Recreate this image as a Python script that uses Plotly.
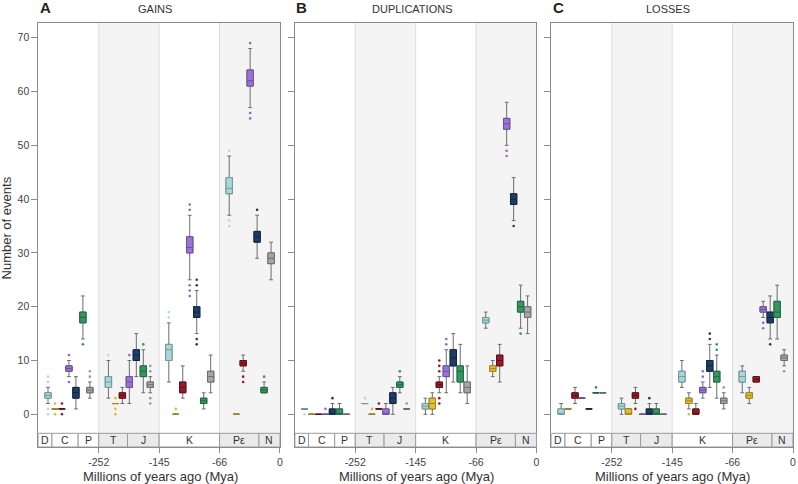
import plotly.graph_objects as go

W, H = 798, 484

# ---------------- data ----------------
SERIES = ["teal", "yellow", "red", "purple", "navy", "green", "gray"]
FILL_COLORS = ["#a9d6d6", "#e6bd2c", "#971b2b", "#9b74d3", "#1f3d66", "#33975f", "#a6a6a6"]
EDGE_COLORS = ["#6f9e9e", "#a8861a", "#5e0f19", "#6d4ea3", "#10243f", "#1f6a40", "#6e6e6e"]
OUTLIER_COLORS = ["#b5d9d9", "#e3b92a", "#8f1a28", "#8e6ac8", "#1f3d66", "#33975f", "#9a9a9a"]

PANEL_TITLES = ["GAINS", "DUPLICATIONS", "LOSSES"]
PANEL_LETTERS = ["A", "B", "C"]

BAND_EDGES_MYA = [-390, -252, -145, -66, 0]
X_TICK_MYA = [-252, -145, -66, 0]
X_TICK_TEXT = ["-252", "-145", "-66", "0"]
Y_TICKS = [0, 10, 20, 30, 40, 50, 60, 70]

PERIOD_NAMES = ["D", "C", "P", "T", "J", "K", "Pε", "N"]
PERIOD_START_MYA = [-390, -359, -299, -252, -201, -145, -66, -23]
PERIOD_END_MYA = [-359, -299, -252, -201, -145, -66, -23, 0]
PERIOD_SHADED = [False, False, False, True, True, False, True, True]

# rows = series (teal..gray), columns = time bands
GAINS_LOWER = [[2, 3, 6, 37], [1, 2, 0, 0], [1, 2, 3, 8], [7, 2, 25, 57], [1, 7, 15, 29], [14, 4, 1, 4], [3, 4, 4, 25]]
GAINS_Q1 = [[3, 5, 10, 41], [1, 2, 0, 0], [1, 3, 4, 9], [8, 5, 30, 61], [3, 10, 18, 32], [17, 7, 2, 4], [4, 5, 6, 28]]
GAINS_MEDIAN = [[3.5, 6, 12, 42], [1, 2, 0, 0], [1, 3.5, 5, 9.5], [8.5, 6, 31, 62], [4, 11, 19, 33], [18, 8, 2.5, 4.5], [4.5, 5.5, 7, 29]]
GAINS_Q3 = [[4, 7, 13, 44], [1, 2, 0, 0], [1, 4, 6, 10], [9, 7, 33, 64], [5, 12, 20, 34], [19, 9, 3, 5], [5, 6, 8, 30]]
GAINS_UPPER = [[5, 10, 17, 48], [1, 2, 0, 0], [1, 5, 9, 11], [10, 10, 37, 68], [7, 15, 23, 37], [22, 12, 4, 6], [6, 7, 11, 32]]
GAINS_OUTLIERS = [
    [[6, 7, 1, 0], [11], [18, 19], [49, 36, 35]],
    [[2, 0], [3, 1, 0], [1], []],
    [[2, 0], [], [], [7, 6]],
    [[11, 6], [11], [38, 39, 24, 23, 22], [69, 56, 55]],
    [[], [], [24, 25, 14, 13], [38]],
    [[13], [13], [], [7]],
    [[7, 8], [8, 9, 3, 2], [], []],
]

DUP_LOWER = [[1, 2, 0, 16], [0, 0, 0, 7], [0, 1, 4, 6], [0, 0, 4, 50], [0, 0, 6, 36], [0, 4, 4, 16], [0, 1, 2, 15]]
DUP_Q1 = [[1, 2, 1, 17], [0, 0, 1, 8], [0, 1, 5, 9], [0, 0, 7, 53], [0, 2, 9, 39], [0, 5, 6, 19], [0, 1, 4, 18]]
DUP_MEDIAN = [[1, 2, 1.5, 17.5], [0, 0, 2, 8.5], [0, 1, 5.5, 10], [0, 0, 8, 54], [0, 3, 10.5, 40], [0, 5.5, 8, 20], [0, 1, 5, 19]]
DUP_Q3 = [[1, 2, 2, 18], [0, 0, 3, 9], [0, 1, 6, 11], [0, 1, 9, 55], [1, 4, 12, 41], [1, 6, 9, 21], [0, 1, 6, 20]]
DUP_UPPER = [[1, 2, 3, 19], [0, 0, 4, 10], [0, 1, 7, 13], [0, 2, 12, 58], [2, 5, 15, 44], [2, 7, 13, 24], [0, 1, 9, 22]]
DUP_OUTLIERS = [
    [[0], [3], [], []],
    [[], [1], [], []],
    [[], [2], [8, 9, 10, 3, 2], []],
    [[1], [], [13, 14], [49, 48]],
    [[3], [], [], [35]],
    [[], [8], [], [15]],
    [[], [2], [], []],
]

LOSS_LOWER = [[0, 0, 5, 4], [1, 0, 1, 2], [2, 2, 0, 6], [3, 0, 3, 18], [1, 0, 5, 14], [4, 0, 3, 14], [4, 0, 1, 9]]
LOSS_Q1 = [[0, 1, 6, 6], [1, 0, 2, 3], [3, 3, 0, 6], [3, 0, 4, 19], [1, 0, 8, 17], [4, 0, 6, 18], [4, 0, 2, 10]]
LOSS_MEDIAN = [[0, 1.5, 7, 7], [1, 0, 2.5, 3.5], [3.5, 3.5, 0, 6.5], [3, 0, 4.5, 19.5], [1, 0, 9, 18], [4, 0, 7, 19], [4, 0, 2.5, 10.5]]
LOSS_Q3 = [[1, 2, 8, 8], [1, 1, 3, 4], [4, 4, 1, 7], [3, 0, 5, 20], [1, 1, 10, 19], [4, 1, 8, 21], [4, 0, 3, 11]]
LOSS_UPPER = [[2, 3, 10, 9], [1, 1, 4, 5], [5, 5, 2, 7], [3, 0, 6, 21], [1, 2, 13, 22], [4, 2, 11, 24], [4, 0, 4, 12]]
LOSS_OUTLIERS = [
    [[], [], [], []],
    [[], [], [0], []],
    [[], [1], [], []],
    [[], [], [7, 8], [17, 16]],
    [[], [3], [14, 15], [13]],
    [[5], [], [12, 13], []],
    [[], [], [5], [8]],
]

PANELS = [
    (GAINS_LOWER, GAINS_Q1, GAINS_MEDIAN, GAINS_Q3, GAINS_UPPER, GAINS_OUTLIERS),
    (DUP_LOWER, DUP_Q1, DUP_MEDIAN, DUP_Q3, DUP_UPPER, DUP_OUTLIERS),
    (LOSS_LOWER, LOSS_Q1, LOSS_MEDIAN, LOSS_Q3, LOSS_UPPER, LOSS_OUTLIERS),
]

# ---------------- layout geometry ----------------
PANEL_X_PX = [(38.5, 281.0), (296.0, 538.5), (553.5, 796.0)]
PLOT_TOP_PX, PLOT_BOTTOM_PX = 23.0, 447.0
STRIP_TOP_PX = 433.3
ZERO_PX, PX_PER_UNIT = 414.3, 5.38
Y_MIN = -(PLOT_BOTTOM_PX - ZERO_PX) / PX_PER_UNIT
Y_MAX = (ZERO_PX - PLOT_TOP_PX) / PX_PER_UNIT
STRIP_TOP = -(STRIP_TOP_PX - ZERO_PX) / PX_PER_UNIT
SLOT0, SLOT_STEP, BOX_W = 0.16, 0.1155, 0.105
FONT = "Liberation Sans, Arial, sans-serif"


def mya_to_x(t):
    e = BAND_EDGES_MYA
    for i in range(len(e) - 1):
        if t <= e[i + 1]:
            return i + (t - e[i]) / (e[i + 1] - e[i])
    return len(e) - 1


def px(x):
    return x / W


def py(y):
    return 1 - y / H


fig = go.Figure()
shapes, annotations = [], []
NB = len(BAND_EDGES_MYA) - 1

for p, (lo, q1, med, q3, hi, outl) in enumerate(PANELS):
    sfx = "" if p == 0 else str(p + 1)
    xa, ya = "x" + sfx, "y" + sfx
    for s in range(len(SERIES)):
        xs = [b + SLOT0 + SLOT_STEP * s for b in range(NB)]
        fig.add_trace(go.Box(
            x=xs, q1=q1[s], median=med[s], q3=q3[s], lowerfence=lo[s], upperfence=hi[s],
            width=BOX_W, whiskerwidth=0.6, line=dict(color="#6c6c6c", width=1),
            fillcolor=FILL_COLORS[s], xaxis=xa, yaxis=ya, hoverinfo="skip", showlegend=False))
        fig.add_trace(go.Box(
            x=xs, q1=q1[s], median=med[s], q3=q3[s], lowerfence=q1[s], upperfence=q3[s],
            width=BOX_W, whiskerwidth=0, line=dict(color=EDGE_COLORS[s], width=1),
            fillcolor=FILL_COLORS[s], xaxis=xa, yaxis=ya, hoverinfo="skip", showlegend=False))
        ox, oy = [], []
        for b in range(NB):
            for v in outl[s][b]:
                ox.append(xs[b])
                oy.append(v)
        if ox:
            fig.add_trace(go.Scatter(
                x=ox, y=oy, mode="markers", xaxis=xa, yaxis=ya, hoverinfo="skip", showlegend=False,
                marker=dict(size=2.6, color=OUTLIER_COLORS[s], line=dict(width=0))))

    # band shading and separators
    for b in range(NB):
        if b % 2 == 1:
            shapes.append(dict(type="rect", xref=xa, yref=ya, x0=b, x1=b + 1, y0=STRIP_TOP, y1=Y_MAX,
                               fillcolor="#f4f4f4", line=dict(width=0), layer="below"))
    for b in range(1, NB):
        shapes.append(dict(type="line", xref=xa, yref=ya, x0=b, x1=b, y0=STRIP_TOP, y1=Y_MAX,
                           line=dict(color="#dddddd", width=1), layer="below"))
    # geological period strip
    for name, t0, t1, sh in zip(PERIOD_NAMES, PERIOD_START_MYA, PERIOD_END_MYA, PERIOD_SHADED):
        x0, x1 = mya_to_x(t0), mya_to_x(t1)
        shapes.append(dict(type="rect", xref=xa, yref=ya, x0=x0, x1=x1, y0=Y_MIN, y1=STRIP_TOP,
                           fillcolor="#eaeaea" if sh else "white",
                           line=dict(color="#9a9a9a", width=1), layer="above"))
        annotations.append(dict(xref=xa, yref=ya, x=(x0 + x1) / 2, y=(Y_MIN + STRIP_TOP) / 2,
                                text=name, showarrow=False, font=dict(family=FONT, size=10.5, color="#333333"),
                                xanchor="center", yanchor="middle"))

    x0p, x1p = PANEL_X_PX[p]
    fig.update_layout(**{
        ("xaxis" + sfx): dict(
            domain=[px(x0p), px(x1p)], range=[0, NB], anchor=ya,
            tickvals=[mya_to_x(t) for t in X_TICK_MYA], ticktext=X_TICK_TEXT,
            ticks="outside", ticklen=5, tickcolor="#8c8c8c", showgrid=False, zeroline=False,
            showline=True, mirror=True, linecolor="#8c8c8c", linewidth=1,
            tickfont=dict(family=FONT, size=10.5, color="#444444")),
        ("yaxis" + sfx): dict(
            domain=[py(PLOT_BOTTOM_PX), py(PLOT_TOP_PX)], range=[Y_MIN, Y_MAX], anchor=xa,
            tickvals=Y_TICKS, showticklabels=(p == 0),
            ticks="outside", ticklen=6, tickcolor="#8c8c8c", showgrid=False, zeroline=False,
            showline=True, mirror=True, linecolor="#8c8c8c", linewidth=1,
            tickfont=dict(family=FONT, size=10.5, color="#444444")),
    })

TITLE_X_PX = [155.7, 413.2, 670.7]
LETTER_X_PX = [38.0, 295.5, 553.0]
XTITLE_X_PX = [160.7, 417.7, 675.0]
for p in range(3):
    annotations.append(dict(xref="paper", yref="paper", x=px(TITLE_X_PX[p]), y=py(8.5),
                            text=PANEL_TITLES[p], showarrow=False, xanchor="center", yanchor="middle",
                            font=dict(family=FONT, size=11, color="#333333")))
    annotations.append(dict(xref="paper", yref="paper", x=px(LETTER_X_PX[p]), y=py(7.5),
                            text="<b>" + PANEL_LETTERS[p] + "</b>", showarrow=False,
                            xanchor="left", yanchor="middle",
                            font=dict(family=FONT, size=15, color="#222222")))
    annotations.append(dict(xref="paper", yref="paper", x=px(XTITLE_X_PX[p]), y=py(476.5),
                            text="Millions of years ago (Mya)", showarrow=False,
                            xanchor="center", yanchor="middle",
                            font=dict(family=FONT, size=13, color="#333333")))
annotations.append(dict(xref="paper", yref="paper", x=px(6.5), y=py(228), text="Number of events",
                        textangle=-90, showarrow=False, xanchor="center", yanchor="middle",
                        font=dict(family=FONT, size=13, color="#333333")))

fig.update_layout(
    width=W, height=H, margin=dict(l=0, r=0, t=0, b=0),
    paper_bgcolor="white", plot_bgcolor="white",
    shapes=shapes, annotations=annotations, showlegend=False, boxmode="overlay",
    font=dict(family=FONT),
)

fig.write_html("out.html", config={"displayModeBar": False},
               post_script="document.body.style.margin='0';document.body.style.overflow='hidden';")
